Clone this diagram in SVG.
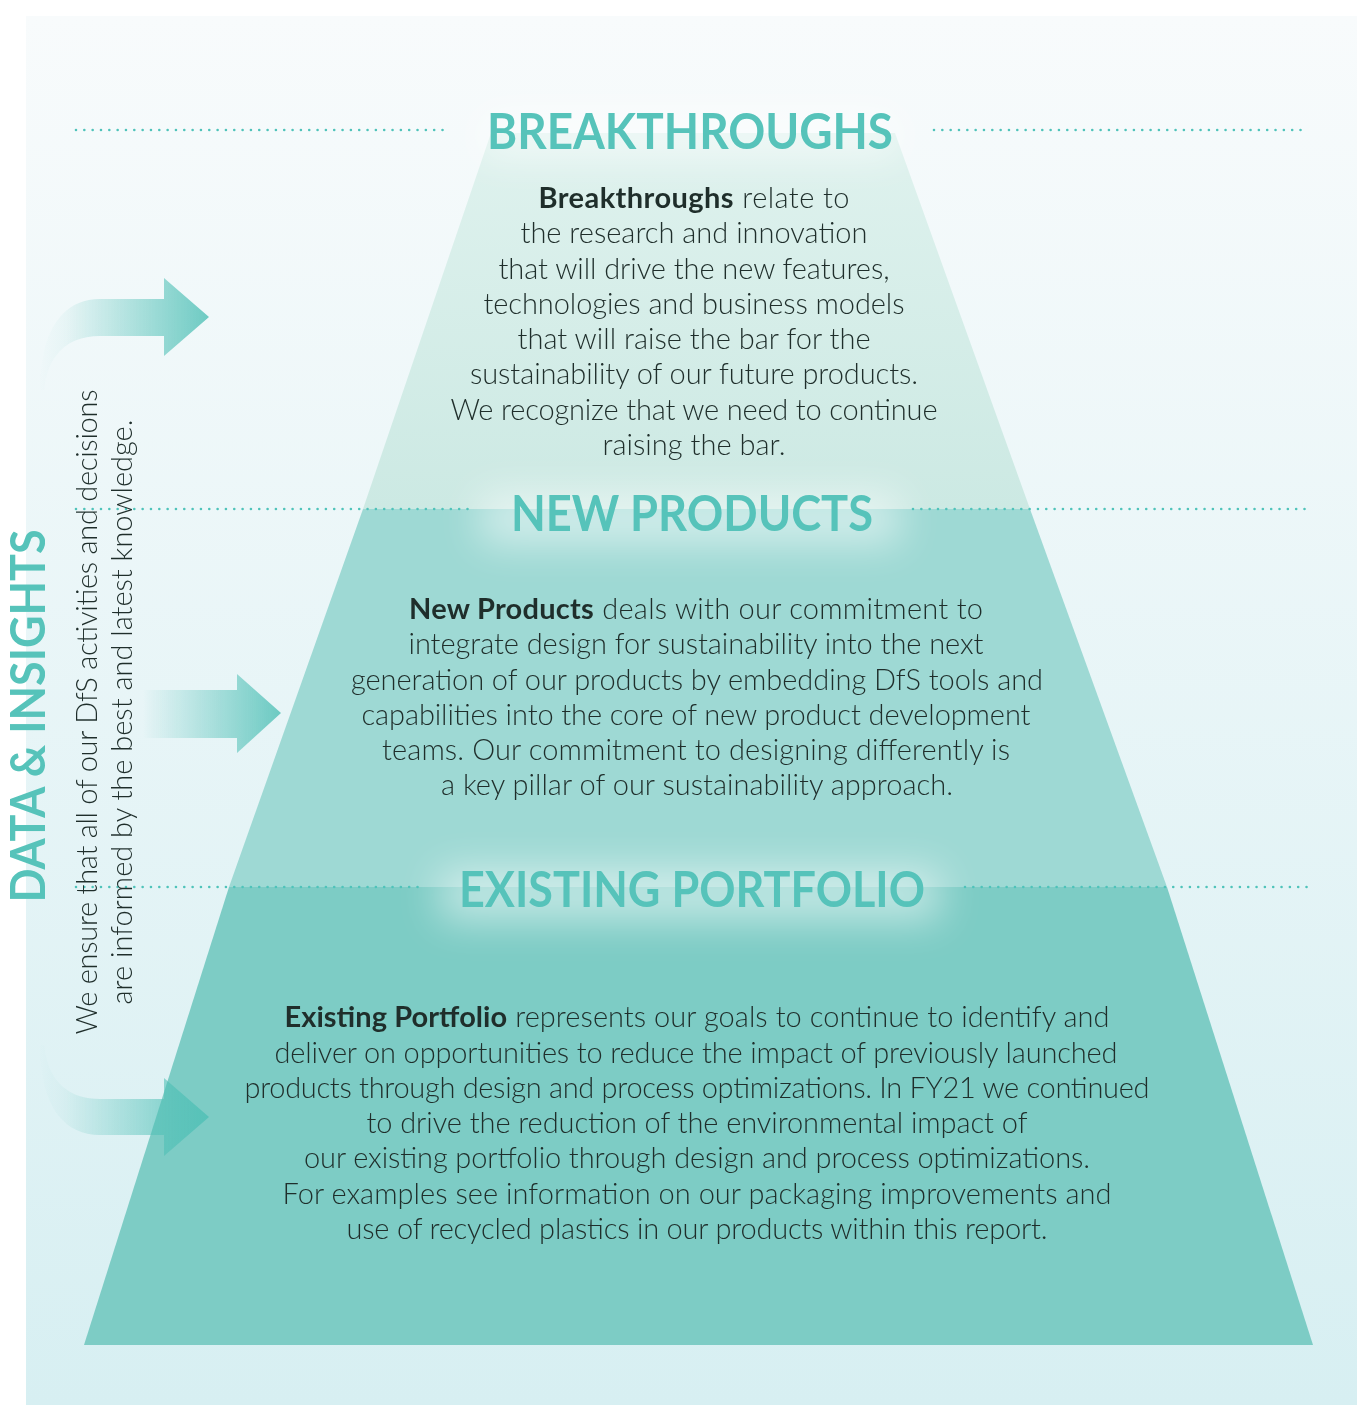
<svg xmlns="http://www.w3.org/2000/svg" width="1359" height="1405" viewBox="0 0 1359 1405">
<defs>
<style>
.body{font-family:Lato,"Liberation Sans",sans-serif;font-size:29px;font-weight:300;fill:#1f2e2b;text-anchor:middle}
.body .b{font-weight:700}
.title{font-family:Lato,"Liberation Sans",sans-serif;font-weight:700;font-size:50px;fill:#56c3ba;text-anchor:middle}
.dots{stroke:#4fc3ba;stroke-width:2.6;stroke-linecap:round;stroke-dasharray:0 8.33;fill:none}
.glow{fill:#ffffff;filter:url(#blur)}
</style>
<linearGradient id="bg" x1="0" y1="0" x2="0" y2="1">
<stop offset="0" stop-color="#f8fbfc"/>
<stop offset="1" stop-color="#d7eff2"/>
</linearGradient>
<linearGradient id="topFill" x1="0" y1="133" x2="0" y2="509" gradientUnits="userSpaceOnUse">
<stop offset="0" stop-color="#dff2ee"/>
<stop offset="1" stop-color="#cce9e3"/>
</linearGradient>
<linearGradient id="arrTop" x1="38" y1="0" x2="209" y2="0" gradientUnits="userSpaceOnUse">
<stop offset="0" stop-color="#4dbfb5" stop-opacity="0"/>
<stop offset="0.15" stop-color="#4dbfb5" stop-opacity="0.05"/>
<stop offset="1" stop-color="#4dbfb5" stop-opacity="0.8"/>
</linearGradient>
<linearGradient id="arrMid" x1="143" y1="0" x2="281" y2="0" gradientUnits="userSpaceOnUse">
<stop offset="0" stop-color="#4dbfb5" stop-opacity="0"/>
<stop offset="1" stop-color="#4dbfb5" stop-opacity="0.8"/>
</linearGradient>
<filter id="blur" x="-40%" y="-150%" width="180%" height="400%">
<feGaussianBlur stdDeviation="20"/>
</filter>
</defs>

<rect id="background" x="26" y="16" width="1331" height="1389" fill="url(#bg)"/>

<g id="existing-portfolio">
<polygon points="229,887 1167,887 1313,1345 84,1345" fill="#7dccc5"/>
</g>
<g id="new-products">
<polygon points="363,509 1030,509 1167,887 229,887" fill="#9ed9d4"/>
</g>
<g id="breakthroughs">
<polygon points="491,133 895,133 1030,509 363,509" fill="url(#topFill)"/>
</g>

<g id="glows" opacity="0.55">
<rect class="glow" x="480" y="112" width="420" height="46"/>
<rect class="glow" x="480" y="494" width="420" height="50"/>
<rect class="glow" x="440" y="870" width="500" height="50"/>
</g>

<g id="dotted-lines">
<line class="dots" x1="76" y1="130" x2="448" y2="130"/>
<line class="dots" x1="934" y1="130" x2="1308" y2="130"/>
<line class="dots" x1="76" y1="509" x2="470" y2="509"/>
<line class="dots" x1="913" y1="509" x2="1308" y2="509"/>
<line class="dots" x1="76" y1="887" x2="420" y2="887"/>
<line class="dots" x1="965" y1="887" x2="1308" y2="887"/>
</g>

<g id="connectors">
<path d="M40 390 C40 335 60 299 100 299 L164 299 L164 278 L209 317 L164 356 L164 336 L100 336 C70 336 48 352 44 390 Z" fill="url(#arrTop)"/>
<path d="M143 690 L237 690 L237 674 L281 713 L237 753 L237 738 L143 738 Z" fill="url(#arrMid)"/>
<path d="M40 1045 C40 1100 60 1135 100 1135 L164 1135 L164 1156 L209 1117 L164 1078 L164 1099 L100 1099 C70 1099 48 1083 44 1045 Z" fill="url(#arrTop)"/>
</g>

<g id="breakthroughs-text">
<text class="title" x="690" y="149" textLength="406" lengthAdjust="spacingAndGlyphs">BREAKTHROUGHS</text>
<text class="body" x="694" y="208" textLength="311" lengthAdjust="spacing"><tspan class="b">Breakthroughs</tspan> relate to</text>
<text class="body" x="694" y="243" textLength="347" lengthAdjust="spacing">the research and innovation</text>
<text class="body" x="694" y="279" textLength="391" lengthAdjust="spacing">that will drive the new features,</text>
<text class="body" x="694" y="314" textLength="421" lengthAdjust="spacing">technologies and business models</text>
<text class="body" x="694" y="349" textLength="353" lengthAdjust="spacing">that will raise the bar for the</text>
<text class="body" x="694" y="384" textLength="448" lengthAdjust="spacing">sustainability of our future products.</text>
<text class="body" x="694" y="420" textLength="487" lengthAdjust="spacing">We recognize that we need to continue</text>
<text class="body" x="694" y="455" textLength="183" lengthAdjust="spacing">raising the bar.</text>
</g>

<g id="new-products-text">
<text class="title" x="692" y="531" textLength="362" lengthAdjust="spacingAndGlyphs">NEW PRODUCTS</text>
<text class="body" x="696" y="619" textLength="574" lengthAdjust="spacing"><tspan class="b">New Products</tspan> deals with our commitment to</text>
<text class="body" x="696" y="654" textLength="575" lengthAdjust="spacing">integrate design for sustainability into the next</text>
<text class="body" x="697" y="690" textLength="692" lengthAdjust="spacing">generation of our products by embedding DfS tools and</text>
<text class="body" x="696" y="725" textLength="669" lengthAdjust="spacing">capabilities into the core of new product development</text>
<text class="body" x="696" y="760" textLength="628" lengthAdjust="spacing">teams. Our commitment to designing differently is</text>
<text class="body" x="697" y="795" textLength="512" lengthAdjust="spacing">a key pillar of our sustainability approach.</text>
</g>

<g id="existing-portfolio-text">
<text class="title" x="692" y="907" textLength="466" lengthAdjust="spacingAndGlyphs">EXISTING PORTFOLIO</text>
<text class="body" x="697" y="1027" textLength="825" lengthAdjust="spacing"><tspan class="b">Existing Portfolio</tspan> represents our goals to continue to identify and</text>
<text class="body" x="696" y="1063" textLength="843" lengthAdjust="spacing">deliver on opportunities to reduce the impact of previously launched</text>
<text class="body" x="697" y="1098" textLength="905" lengthAdjust="spacing">products through design and process optimizations. In FY21 we continued</text>
<text class="body" x="697" y="1133" textLength="661" lengthAdjust="spacing">to drive the reduction of the environmental impact of</text>
<text class="body" x="697" y="1168" textLength="786" lengthAdjust="spacing">our existing portfolio through design and process optimizations.</text>
<text class="body" x="697" y="1204" textLength="829" lengthAdjust="spacing">For examples see information on our packaging improvements and</text>
<text class="body" x="697" y="1239" textLength="701" lengthAdjust="spacing">use of recycled plastics in our products within this report.</text>
</g>

<g id="data-insights">
<text class="title" transform="translate(45 716) rotate(-90)" x="0" y="0" textLength="373" lengthAdjust="spacingAndGlyphs" style="font-size:48px">DATA &amp; INSIGHTS</text>
<text class="body" transform="translate(97 712) rotate(-90)" x="0" y="0" textLength="645" lengthAdjust="spacing">We ensure that all of our DfS activities and decisions</text>
<text class="body" transform="translate(132 712) rotate(-90)" x="0" y="0" textLength="585" lengthAdjust="spacing">are informed by the best and latest knowledge.</text>
</g>
</svg>
